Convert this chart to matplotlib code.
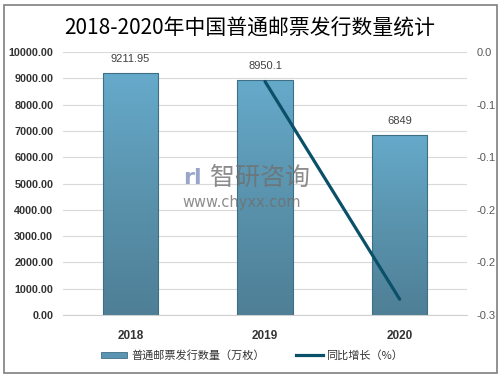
import numpy as np
import matplotlib
matplotlib.use("Agg")
import matplotlib.pyplot as plt
from matplotlib.patches import Rectangle
from matplotlib.colors import LinearSegmentedColormap

plt.rcParams['font.family'] = ['Noto Sans CJK SC', 'DejaVu Sans']
num_font = 'Liberation Sans'

# data
years = ['2018', '2019', '2020']
stamps = [9211.95, 8950.1, 6849]
growth_years = ['2019', '2020']
growth = [-0.028, -0.235]
left_ticks = [0, 1000, 2000, 3000, 4000, 5000, 6000, 7000, 8000, 9000, 10000]
right_ticks = [0, -0.05, -0.1, -0.15, -0.2, -0.25]
right_tick_labels = ['0.0', '-0.1', '-0.1', '-0.2', '-0.2', '-0.3']

fig = plt.figure(figsize=(5.02, 3.79), dpi=100)
ax = fig.add_axes([63 / 502, 1 - 315 / 379, 404 / 502, 263 / 379])

x = np.arange(len(years))
bars = ax.bar(x, stamps, width=0.41, color='none', edgecolor='#3f6f85', linewidth=0.8, zorder=3)

# vertical gradient inside each bar
cmap = LinearSegmentedColormap.from_list('bar', ['#4e7f96', '#5a93ad', '#66aacb'])
grad = np.linspace(0, 1, 256).reshape(-1, 1)
for b in bars:
    x0, y0 = b.get_x(), b.get_y()
    w, h = b.get_width(), b.get_height()
    im = ax.imshow(grad, cmap=cmap, origin='lower', aspect='auto',
                   extent=[x0, x0 + w, y0, y0 + h], zorder=2)
    im.set_clip_path(b)

for xi, v in zip(x, stamps):
    ax.text(xi, v + 330, '{:g}'.format(v), ha='center', va='bottom',
            fontsize=8, color='#404040', family=num_font)

ax.set_xlim(-0.5, 2.5)
ax.set_ylim(0, 10000)
ax.set_yticks(left_ticks)
ax.set_yticklabels(['{:.2f}'.format(t) for t in left_ticks], fontsize=7.8,
                   color='#333333', fontweight='bold', family=num_font)
ax.set_xticks(x)
ax.set_xticklabels(years, fontsize=8.5, fontweight='bold', color='#333333', family=num_font)
ax.tick_params(axis='both', length=0)
ax.tick_params(axis='x', pad=11)
ax.tick_params(axis='y', pad=7)
ax.grid(axis='y', color='#d9d9d9', linewidth=0.8, zorder=0)
ax.set_axisbelow(True)
for s in ['top', 'left', 'right']:
    ax.spines[s].set_visible(False)
ax.spines['bottom'].set_color('#d0d0d0')

ax2 = ax.twinx()
gx = [years.index(y) for y in growth_years]
ax2.plot(gx, growth, color='#0b5069', linewidth=2.3, solid_capstyle='round', zorder=5)
ax2.set_ylim(-0.25, 0)
ax2.set_yticks(right_ticks)
ax2.set_yticklabels(right_tick_labels, fontsize=8, color='#595959', family=num_font)
ax2.tick_params(axis='y', length=0, pad=7)
for s in ['top', 'left', 'right', 'bottom']:
    ax2.spines[s].set_visible(False)

fig.text(0.498, 1 - 29 / 379, '2018-2020年中国普通邮票发行数量统计', ha='center', va='center',
         fontsize=15, color='#000000', fontweight='medium')

# watermark
fig.text(210 / 502, 1 - 178 / 379, '智研咨询', ha='left', va='center', fontsize=18,
         color='#707070', alpha=0.8, zorder=10)
fig.text(182 / 502, 1 - 202 / 379, 'www.chyxx.com', ha='left', va='center', fontsize=10.5,
         color='#707070', alpha=0.8, family='DejaVu Sans', zorder=10)
fig.text(183 / 502, 1 - 178 / 379, 'rl', ha='left', va='center', fontsize=16,
         color='#8f9cc4', alpha=0.9, family='DejaVu Sans', fontweight='bold', zorder=10)

# legend
fig.patches.append(Rectangle((101 / 502, 1 - 358 / 379), 26 / 502, 6 / 379,
                             transform=fig.transFigure, facecolor='#5b95b1',
                             edgecolor='#3f6f85', linewidth=0.6))
fig.text(131 / 502, 1 - 355 / 379, '普通邮票发行数量（万枚）', ha='left', va='center',
         fontsize=8, color='#333333')
fig.lines.append(plt.Line2D([296 / 502, 323 / 502], [1 - 355 / 379, 1 - 355 / 379],
                            transform=fig.transFigure, color='#0b5069', linewidth=2.3))
fig.text(326 / 502, 1 - 355 / 379, '同比增长（%）', ha='left', va='center',
         fontsize=8, color='#333333')

# outer border
fig.patches.append(Rectangle((4 / 502, 1 - 373 / 379), 493 / 502, 368 / 379,
                             transform=fig.transFigure, facecolor='none',
                             edgecolor='#7f7f7f', linewidth=1.2))

fig.savefig('out.png', dpi=100)
